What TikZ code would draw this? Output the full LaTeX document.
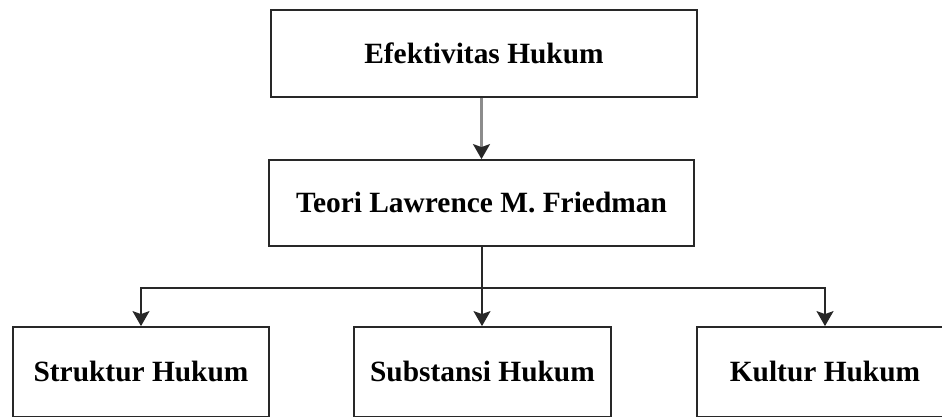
\documentclass[tikz,border=0pt]{standalone}
\usepackage{fontspec}
\setmainfont{Liberation Serif}
\usetikzlibrary{arrows.meta, positioning}
\definecolor{boxline}{RGB}{40, 40, 40}
\definecolor{greyline}{RGB}{140, 140, 140}

\begin{document}
\begin{tikzpicture}[x=1pt, y=1pt, font=\fontsize{29.4}{35}\selectfont\bfseries,
  hbox/.style={draw=boxline, line width=1.8pt, fill=white, minimum width=426pt, minimum height=87pt, inner sep=0pt},
  sbox/.style={draw=boxline, line width=1.8pt, fill=white, minimum width=256pt, minimum height=89.5pt, inner sep=0pt},
  link/.style={line width=1.8pt, draw=boxline},
  tip/.style={-{Stealth[width=17pt, length=15pt, inset=3pt, color=boxline]}}]
  \useasboundingbox (0,0) rectangle (942,416);
  \clip (0,0) rectangle (942,416);

  \node[hbox] (efektif) at (484,362.5) {Efektivitas Hukum};
  \node[hbox, minimum width=425pt, minimum height=86pt] (teori) at (481.5,213) {Teori Lawrence M. Friedman};

  \node[sbox] (struktur) at (141,44.25) {Struktur Hukum};
  \node[sbox, minimum width=257pt] (substansi) at (482.5,44.25) {Substansi Hukum};
  \node[sbox] (kultur) at (825,44.25) {Kultur Hukum};

  \coordinate (cabang) at (482,128);

  \draw[link, draw=greyline, line width=2.2pt, tip] (efektif.south -| teori.south) -- (teori.north);
  \draw[link] (teori.south -| cabang) -- (cabang);
  \draw[link, tip] (cabang) -| (struktur.north);
  \draw[link, tip] (cabang) -| (kultur.north);
  \draw[link, tip] (cabang) -- (substansi.north -| cabang);
\end{tikzpicture}
\end{document}
